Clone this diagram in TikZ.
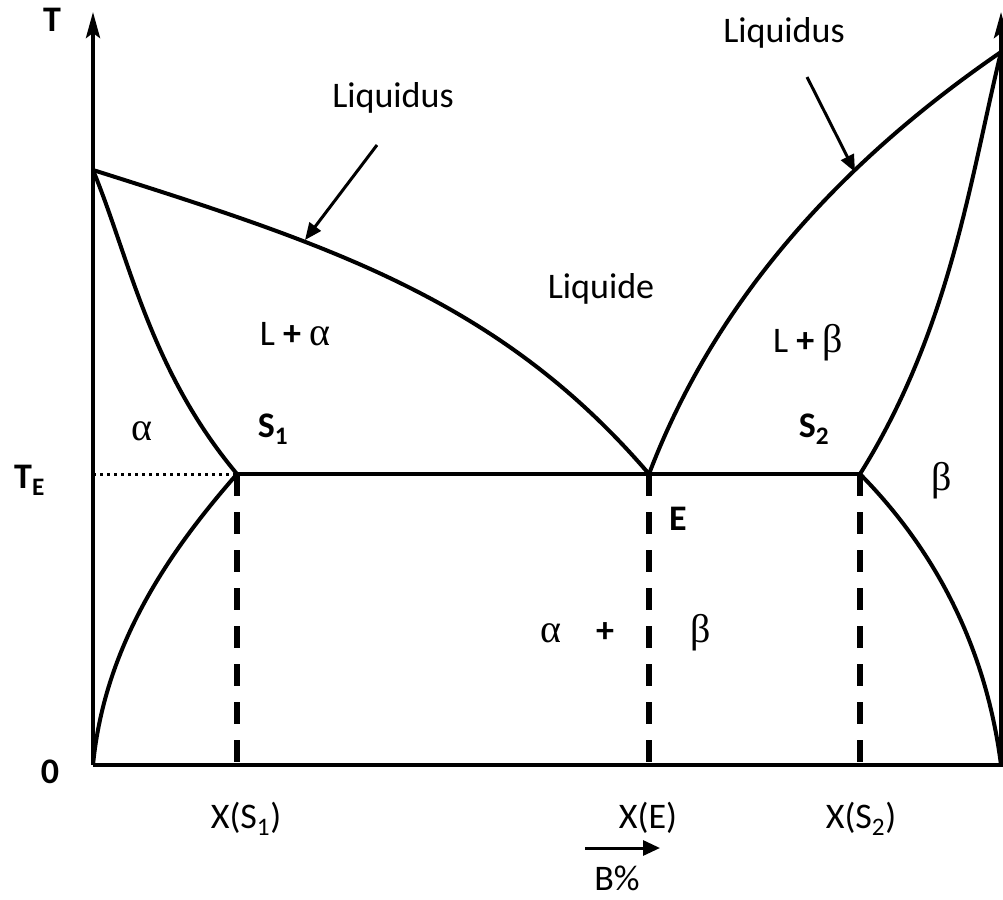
\documentclass[tikz,border=0pt]{standalone}
\usepackage{fontspec}
\setmainfont{Carlito}
\newfontfamily\grk{Liberation Serif}
\usetikzlibrary{arrows.meta}
\begin{document}
\begin{tikzpicture}[x=1pt,y=-1pt,
  lbl/.style={inner sep=0pt, anchor=base, font=\fontsize{36}{40}\selectfont},
  blbl/.style={inner sep=0pt, anchor=base, font=\fontsize{36}{40}\selectfont\bfseries},
  glbl/.style={inner sep=0pt, anchor=base, font=\fontsize{40}{44}\selectfont\grk},
  axis/.style={line width=4pt},
  axarrow/.style={line width=4pt, -{Stealth[length=26pt,width=14pt,inset=5pt]}},
  curve/.style={line width=4pt, line join=round},
  dashline/.style={line width=5.5pt, dash pattern=on 22pt off 16pt},
  dotline/.style={line width=3pt, dash pattern=on 3pt off 4pt},
  pointer/.style={line width=3pt, -{Triangle[length=17pt,width=14pt]}}
]
\useasboundingbox (0,0) rectangle (1003,899);
% key points
\coordinate (O) at (93,765);
\coordinate (Ttop) at (93,12);
\coordinate (R0) at (1001,765);
\coordinate (Rtop) at (1001,12);
\coordinate (A) at (93,170);
\coordinate (B) at (1001,52);
\coordinate (TE) at (93,474);
\coordinate (S1) at (237,474);
\coordinate (E) at (649,474);
\coordinate (S2) at (860,474);
\coordinate (XS1) at (237,765);
\coordinate (XE) at (649,765);
\coordinate (XS2) at (860,765);
% axes
\draw[axarrow] (O) -- (Ttop);
\draw[axarrow] (R0) -- (Rtop);
\draw[axis] (O) -- (1003,765);
% liquidus
\draw[curve] (A) .. controls (330,245) and (500,300) .. (E);
\draw[curve] (E) .. controls (700,340) and (800,190) .. (B);
% solidus
\draw[curve] (A) .. controls (130,260) and (150,370) .. (S1);
\draw[curve] (B) .. controls (970,180) and (950,330) .. (S2);
% solvus
\draw[curve] (S1) .. controls (175,545) and (105,640) .. (O);
\draw[curve] (S2) .. controls (930,545) and (985,640) .. (R0);
% eutectic line
\draw[curve] (S1) -- (S2);
\draw[dotline] (TE) -- (S1);
% dashed verticals
\draw[dashline] (S1) -- (XS1);
\draw[dashline] (E) -- (XE);
\draw[dashline] (S2) -- (XS2);
% pointers
\coordinate (p1s) at (377,145);
\coordinate (p1e) at (305,240);
\coordinate (p2s) at (807,77);
\coordinate (p2e) at (855,172);
\draw[pointer] (p1s) -- (p1e);
\draw[pointer] (p2s) -- (p2e);
% labels
\node[lbl] (liq1) at (393,107) {Liquidus};
\node[lbl] (liq2) at (784,43) {Liquidus};
\node[lbl] (liqd) at (601,298) {Liquide};
\node[lbl] (la) at (295,345) {L {\bfseries+} {\grk\fontsize{40}{44}\selectfont α}};
\node[lbl] (lb) at (808,352) {L {\bfseries+} {\grk\fontsize{40}{44}\selectfont β}};
\node[blbl] (s1) at (273,437) {S\textsubscript{1}};
\node[blbl] (s2) at (814,437) {S\textsubscript{2}};
\node[glbl] (al) at (142,440) {α};
\node[glbl] (be) at (942,490) {β};
\node[blbl] (e) at (678,530) {E};
\node[glbl] (ab1) at (551,642) {α};
\node[blbl] (ab2) at (605,642) {+};
\node[glbl] (ab3) at (701,642) {β};
\node[blbl] (t) at (52,32) {T};
\node[blbl, anchor=base west] (te) at (14,488) {T\textsubscript{E}};
\node[blbl] (zero) at (50,783) {0};
\node[lbl] (x1) at (246,828) {X(S\textsubscript{1})};
\node[lbl] (xe) at (648,828) {X(E)};
\node[lbl] (x2) at (861,828) {X(S\textsubscript{2})};
\coordinate (bs) at (585,848);
\coordinate (be2) at (660,848);
\draw[line width=3pt, -{Triangle[length=17pt,width=15pt]}] (bs) -- (be2);
\node[lbl] (bp) at (617,890) {B\%};
\end{tikzpicture}
\end{document}
